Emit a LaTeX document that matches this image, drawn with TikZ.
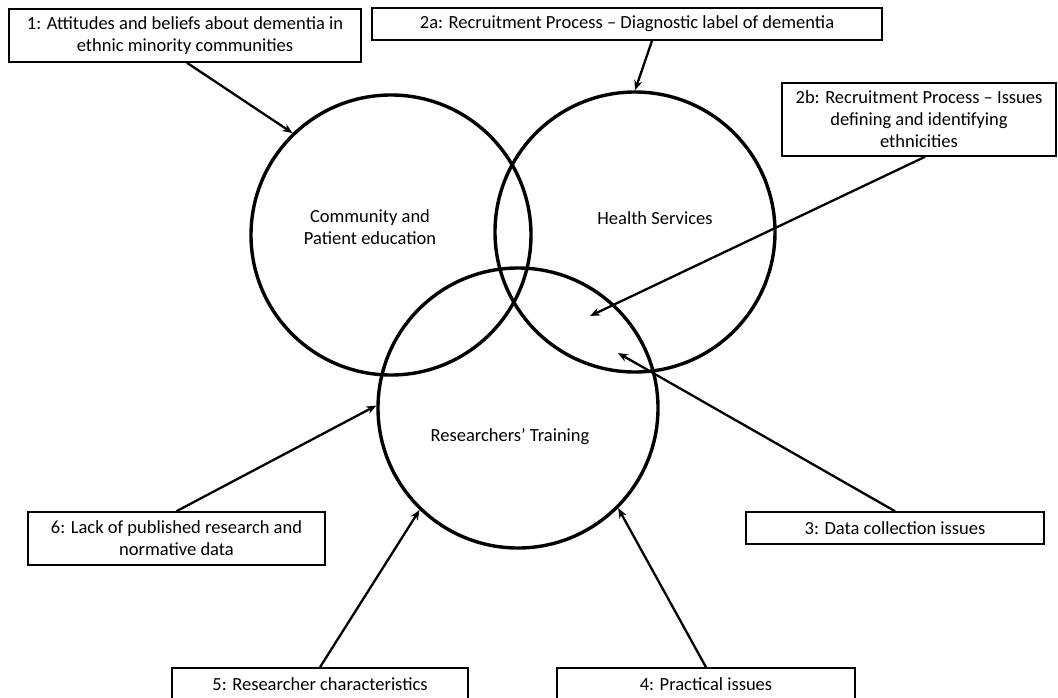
\documentclass[tikz,border=0pt]{standalone}
\usepackage{fontspec}
\setmainfont{Carlito}
\usetikzlibrary{arrows.meta}
\begin{document}
\begin{tikzpicture}[x=1pt,y=-1pt,
  box/.style={draw,line width=1.6pt,inner sep=0pt,align=center,font=\fontsize{18.5}{22}\selectfont},
  ring/.style={draw,circle,line width=3.4pt,minimum size=280pt,inner sep=0pt},
  lbl/.style={align=center,font=\fontsize{18.5}{22}\selectfont},
  arr/.style={line width=2.3pt,-{Stealth[length=10pt,width=8pt]}}]
\useasboundingbox (0,0) rectangle (1058,697);
\node[ring] (c1) at (391,235) {};
\node[ring] (c2) at (635,232) {};
\node[ring] (c3) at (518,408) {};
\node[lbl] (t1) at (370,227) {Community and\\Patient education};
\node[lbl] (t2) at (655,218) {Health Services};
\node[lbl] (t3) at (510,437) {Researchers’ Training};
\node[box,minimum width=352pt,minimum height=53pt] (b1) at (185,35.5) {1: Attitudes and beliefs about dementia in\\ethnic minority communities};
\node[box,minimum width=510pt,minimum height=32pt] (b2a) at (627,24) {2a: Recruitment Process – Diagnostic label of dementia};
\node[box,minimum width=274pt,minimum height=73pt] (b2b) at (919,119.5) {2b: Recruitment Process – Issues\\defining and identifying\\ethnicities};
\node[box,minimum width=297pt,minimum height=53pt] (b6) at (176.5,538.5) {6: Lack of published research and\\normative data};
\node[box,minimum width=298pt,minimum height=32pt] (b3) at (895,528) {3: Data collection issues};
\node[box,minimum width=296pt,minimum height=32pt] (b5) at (320,684) {5: Researcher characteristics};
\node[box,minimum width=298pt,minimum height=32pt] (b4) at (706,684) {4: Practical issues};
\coordinate (p2b) at (590,316);
\coordinate (p3) at (618,353);
\draw[arr] ([xshift=2pt]b1.south) -- (c1.134);
\draw[arr] ([xshift=25pt]b2a.south) -- (c2.north);
\draw[arr] ([xshift=6pt]b2b.south) -- (p2b);
\draw[arr] (b3.north) -- (p3);
\draw[arr] (b6.north) -- (c3.179);
\draw[arr] (b5.north) -- (c3.226);
\draw[arr] (b4.north) -- (c3.315);
\end{tikzpicture}
\end{document}
